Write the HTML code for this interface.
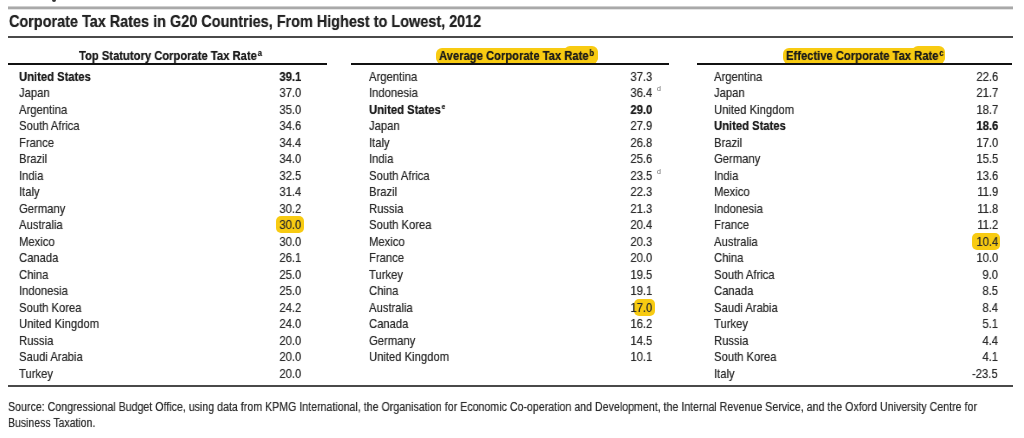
<!DOCTYPE html>
<html><head><meta charset="utf-8"><style>
html,body{margin:0;padding:0;background:#fff;width:1024px;height:438px;overflow:hidden;position:relative}
body *{-webkit-font-smoothing:antialiased;will-change:transform}
.t{position:absolute;font-family:"Liberation Sans",sans-serif;font-size:13.0px;line-height:16px;white-space:nowrap;transform-origin:0 0}
.t.r{transform-origin:100% 0}
.n{color:#2c2c2c;transform:scaleX(0.865);text-shadow:0 0 0.7px rgba(40,40,40,0.6)}
.b{color:#1c1c1c;font-weight:bold;transform:scaleX(0.865);text-shadow:0 0 0.7px rgba(20,20,20,0.7)}
.sup{font-size:7.5px;position:relative;top:-5px;font-weight:bold;margin-left:1px}
.dsup{position:absolute;font-family:"Liberation Sans",sans-serif;font-size:7px;line-height:8px;color:#6a6a6a}
.hl{position:absolute;background:#f8cb12;border-radius:5px}
.line{position:absolute}
.title{position:absolute;font-family:"Liberation Sans",sans-serif;font-weight:bold;font-size:16.6px;line-height:20px;color:#222;white-space:nowrap;transform-origin:0 0;transform:scaleX(0.87);text-shadow:0 0 0.7px rgba(20,20,20,0.7)}
.hd{position:absolute;font-family:"Liberation Sans",sans-serif;font-weight:bold;font-size:12.9px;line-height:16px;color:#1a1a1a;white-space:nowrap;transform-origin:0 0;transform:scaleX(0.87);text-shadow:0 0 0.7px rgba(20,20,20,0.7)}
.hd .sup{font-size:8.5px;position:relative;top:-4.5px;margin-left:1px}
.hhl{position:absolute;background:#f8cb12;border-radius:6px}
.src{position:absolute;font-family:"Liberation Sans",sans-serif;font-size:12.5px;line-height:16px;color:#2e2e2e;white-space:nowrap;transform-origin:0 0;transform:scaleX(0.851);text-shadow:0 0 0.7px rgba(40,40,40,0.6)}
</style></head><body>
<div class="line" style="left:52px;top:0;width:4px;height:2px;background:#333;border-radius:0 0 2px 2px"></div>
<div class="line" style="left:8px;top:6px;width:1005px;height:4px;background:linear-gradient(#cfcfcf 0 1px,#a9a9a9 1px 3px,#e4e4e4 3px 4px)"></div>
<div class="title" style="left:9.2px;top:11.51px">Corporate Tax Rates in G20 Countries, From Highest to Lowest, 2012</div>
<div class="line" style="left:8px;top:36.2px;width:1005px;height:1.5px;background:#4a4a4a"></div>
<div class="hhl" style="left:436.2px;top:47.5px;width:162px;height:16px"></div>
<div class="hhl" style="left:564px;top:46px;width:34.3px;height:17px"></div>
<div class="hhl" style="left:783px;top:47.5px;width:162px;height:16px"></div>
<div class="hhl" style="left:912px;top:46px;width:33px;height:17px"></div>
<div class="hd" style="left:78.8px;top:47.64px">Top Statutory Corporate Tax Rate<span class="sup">a</span></div>
<div class="hd" style="left:438.8px;top:47.64px">Average Corporate Tax Rate<span class="sup">b</span></div>
<div class="hd" style="left:785.7px;top:47.64px">Effective Corporate Tax Rate<span class="sup">c</span></div>
<div class="line" style="left:7.5px;top:63px;width:318.5px;height:2px;background:#111"></div>
<div class="line" style="left:351.4px;top:63px;width:318.3px;height:2px;background:#111"></div>
<div class="line" style="left:697.4px;top:63px;width:315.3px;height:2px;background:#111"></div>
<div class="hl" style="left:275.6px;top:216.1px;width:28.1px;height:16.6px"></div>
<div class="hl" style="left:633.8px;top:298.6px;width:20.9px;height:16.6px"></div>
<div class="hl" style="left:972.3px;top:232.6px;width:27.7px;height:16.6px"></div>
<div class="t b" style="left:18.80px;top:68.90px">United States</div>
<div class="t b r" style="right:722.80px;top:68.90px">39.1</div>
<div class="t n" style="left:18.80px;top:85.40px">Japan</div>
<div class="t n r" style="right:722.80px;top:85.40px">37.0</div>
<div class="t n" style="left:18.80px;top:101.90px">Argentina</div>
<div class="t n r" style="right:722.80px;top:101.90px">35.0</div>
<div class="t n" style="left:18.80px;top:118.40px">South Africa</div>
<div class="t n r" style="right:722.80px;top:118.40px">34.6</div>
<div class="t n" style="left:18.80px;top:134.90px">France</div>
<div class="t n r" style="right:722.80px;top:134.90px">34.4</div>
<div class="t n" style="left:18.80px;top:151.40px">Brazil</div>
<div class="t n r" style="right:722.80px;top:151.40px">34.0</div>
<div class="t n" style="left:18.80px;top:167.90px">India</div>
<div class="t n r" style="right:722.80px;top:167.90px">32.5</div>
<div class="t n" style="left:18.80px;top:184.40px">Italy</div>
<div class="t n r" style="right:722.80px;top:184.40px">31.4</div>
<div class="t n" style="left:18.80px;top:200.90px">Germany</div>
<div class="t n r" style="right:722.80px;top:200.90px">30.2</div>
<div class="t n" style="left:18.80px;top:217.40px">Australia</div>
<div class="t n r" style="right:722.80px;top:217.40px">30.0</div>
<div class="t n" style="left:18.80px;top:233.90px">Mexico</div>
<div class="t n r" style="right:722.80px;top:233.90px">30.0</div>
<div class="t n" style="left:18.80px;top:250.40px">Canada</div>
<div class="t n r" style="right:722.80px;top:250.40px">26.1</div>
<div class="t n" style="left:18.80px;top:266.90px">China</div>
<div class="t n r" style="right:722.80px;top:266.90px">25.0</div>
<div class="t n" style="left:18.80px;top:283.40px">Indonesia</div>
<div class="t n r" style="right:722.80px;top:283.40px">25.0</div>
<div class="t n" style="left:18.80px;top:299.90px">South Korea</div>
<div class="t n r" style="right:722.80px;top:299.90px">24.2</div>
<div class="t n" style="left:18.80px;top:316.40px">United Kingdom</div>
<div class="t n r" style="right:722.80px;top:316.40px">24.0</div>
<div class="t n" style="left:18.80px;top:332.90px">Russia</div>
<div class="t n r" style="right:722.80px;top:332.90px">20.0</div>
<div class="t n" style="left:18.80px;top:349.40px">Saudi Arabia</div>
<div class="t n r" style="right:722.80px;top:349.40px">20.0</div>
<div class="t n" style="left:18.80px;top:365.90px">Turkey</div>
<div class="t n r" style="right:722.80px;top:365.90px">20.0</div>
<div class="t n" style="left:368.90px;top:68.90px">Argentina</div>
<div class="t n r" style="right:371.80px;top:68.90px">37.3</div>
<div class="t n" style="left:368.90px;top:85.40px">Indonesia</div>
<div class="t n r" style="right:371.80px;top:85.40px">36.4</div>
<div class="dsup" style="left:656.8px;top:85.1px">d</div>
<div class="t b" style="left:368.90px;top:101.90px">United States<span class="sup">e</span></div>
<div class="t b r" style="right:371.80px;top:101.90px">29.0</div>
<div class="t n" style="left:368.90px;top:118.40px">Japan</div>
<div class="t n r" style="right:371.80px;top:118.40px">27.9</div>
<div class="t n" style="left:368.90px;top:134.90px">Italy</div>
<div class="t n r" style="right:371.80px;top:134.90px">26.8</div>
<div class="t n" style="left:368.90px;top:151.40px">India</div>
<div class="t n r" style="right:371.80px;top:151.40px">25.6</div>
<div class="t n" style="left:368.90px;top:167.90px">South Africa</div>
<div class="t n r" style="right:371.80px;top:167.90px">23.5</div>
<div class="dsup" style="left:656.8px;top:167.6px">d</div>
<div class="t n" style="left:368.90px;top:184.40px">Brazil</div>
<div class="t n r" style="right:371.80px;top:184.40px">22.3</div>
<div class="t n" style="left:368.90px;top:200.90px">Russia</div>
<div class="t n r" style="right:371.80px;top:200.90px">21.3</div>
<div class="t n" style="left:368.90px;top:217.40px">South Korea</div>
<div class="t n r" style="right:371.80px;top:217.40px">20.4</div>
<div class="t n" style="left:368.90px;top:233.90px">Mexico</div>
<div class="t n r" style="right:371.80px;top:233.90px">20.3</div>
<div class="t n" style="left:368.90px;top:250.40px">France</div>
<div class="t n r" style="right:371.80px;top:250.40px">20.0</div>
<div class="t n" style="left:368.90px;top:266.90px">Turkey</div>
<div class="t n r" style="right:371.80px;top:266.90px">19.5</div>
<div class="t n" style="left:368.90px;top:283.40px">China</div>
<div class="t n r" style="right:371.80px;top:283.40px">19.1</div>
<div class="t n" style="left:368.90px;top:299.90px">Australia</div>
<div class="t n r" style="right:371.80px;top:299.90px">17.0</div>
<div class="t n" style="left:368.90px;top:316.40px">Canada</div>
<div class="t n r" style="right:371.80px;top:316.40px">16.2</div>
<div class="t n" style="left:368.90px;top:332.90px">Germany</div>
<div class="t n r" style="right:371.80px;top:332.90px">14.5</div>
<div class="t n" style="left:368.90px;top:349.40px">United Kingdom</div>
<div class="t n r" style="right:371.80px;top:349.40px">10.1</div>
<div class="t n" style="left:714.20px;top:68.90px">Argentina</div>
<div class="t n r" style="right:26.00px;top:68.90px">22.6</div>
<div class="t n" style="left:714.20px;top:85.40px">Japan</div>
<div class="t n r" style="right:26.00px;top:85.40px">21.7</div>
<div class="t n" style="left:714.20px;top:101.90px">United Kingdom</div>
<div class="t n r" style="right:26.00px;top:101.90px">18.7</div>
<div class="t b" style="left:714.20px;top:118.40px">United States</div>
<div class="t b r" style="right:26.00px;top:118.40px">18.6</div>
<div class="t n" style="left:714.20px;top:134.90px">Brazil</div>
<div class="t n r" style="right:26.00px;top:134.90px">17.0</div>
<div class="t n" style="left:714.20px;top:151.40px">Germany</div>
<div class="t n r" style="right:26.00px;top:151.40px">15.5</div>
<div class="t n" style="left:714.20px;top:167.90px">India</div>
<div class="t n r" style="right:26.00px;top:167.90px">13.6</div>
<div class="t n" style="left:714.20px;top:184.40px">Mexico</div>
<div class="t n r" style="right:26.00px;top:184.40px">11.9</div>
<div class="t n" style="left:714.20px;top:200.90px">Indonesia</div>
<div class="t n r" style="right:26.00px;top:200.90px">11.8</div>
<div class="t n" style="left:714.20px;top:217.40px">France</div>
<div class="t n r" style="right:26.00px;top:217.40px">11.2</div>
<div class="t n" style="left:714.20px;top:233.90px">Australia</div>
<div class="t n r" style="right:26.00px;top:233.90px">10.4</div>
<div class="t n" style="left:714.20px;top:250.40px">China</div>
<div class="t n r" style="right:26.00px;top:250.40px">10.0</div>
<div class="t n" style="left:714.20px;top:266.90px">South Africa</div>
<div class="t n r" style="right:26.00px;top:266.90px">9.0</div>
<div class="t n" style="left:714.20px;top:283.40px">Canada</div>
<div class="t n r" style="right:26.00px;top:283.40px">8.5</div>
<div class="t n" style="left:714.20px;top:299.90px">Saudi Arabia</div>
<div class="t n r" style="right:26.00px;top:299.90px">8.4</div>
<div class="t n" style="left:714.20px;top:316.40px">Turkey</div>
<div class="t n r" style="right:26.00px;top:316.40px">5.1</div>
<div class="t n" style="left:714.20px;top:332.90px">Russia</div>
<div class="t n r" style="right:26.00px;top:332.90px">4.4</div>
<div class="t n" style="left:714.20px;top:349.40px">South Korea</div>
<div class="t n r" style="right:26.00px;top:349.40px">4.1</div>
<div class="t n" style="left:714.20px;top:365.90px">Italy</div>
<div class="t n r" style="right:26.00px;top:365.90px">-23.5</div>
<div class="line" style="left:7.5px;top:384.5px;width:1005.2px;height:1.5px;background:#4a4a4a"></div>
<div class="src" style="left:7.5px;top:398.87px">Source: Congressional Budget Office, using data from KPMG International, the Organisation for Economic Co-operation and Development, the Internal Revenue Service, and the Oxford University Centre for</div>
<div class="src" style="left:7.5px;top:414.67px;transform:scaleX(0.84)">Business Taxation.</div>
</body></html>
